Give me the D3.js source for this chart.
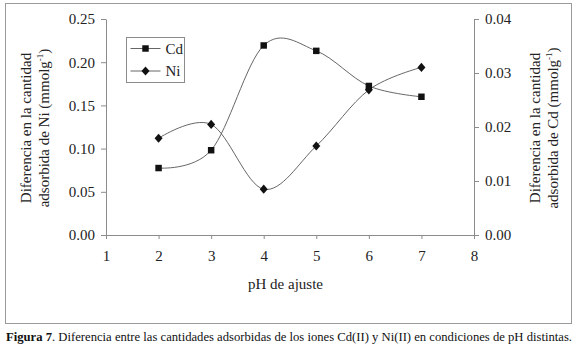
<!DOCTYPE html>
<html lang="es">
<head>
<meta charset="UTF-8" />
<title>Figura 7</title>
<script src="https://d3js.org/d3.v7.min.js"></script>
<style>
  body { margin: 0; background: #fff; }
  svg { display: block; }
  svg text { font-family: "Liberation Serif", "Times New Roman", "DejaVu Serif", serif !important; }
  .axis path, .axis line { stroke: #8c8c8c; }
  .axis text { font-size: 15px; fill: #222; }
  .title { font-size: 15px; fill: #222; }
</style>
</head>
<body>
<svg width="577" height="347"></svg>
<script>
  // data
  const ph = [2, 3, 4, 5, 6, 7];
  const cd = [0.0124, 0.0157, 0.0351, 0.0341, 0.0276, 0.0256];   // right axis
  const ni = [0.112, 0.128, 0.053, 0.103, 0.168, 0.194];         // left axis
  const xTicks = [1, 2, 3, 4, 5, 6, 7, 8];
  const leftTicks = [0, 0.05, 0.10, 0.15, 0.20, 0.25];
  const rightTicks = [0, 0.01, 0.02, 0.03, 0.04];

  const serif = '"Liberation Serif", "Times New Roman", "DejaVu Serif", serif';
  const svg = d3.select("svg");
  const margin = { top: 19, right: 103, bottom: 112, left: 106 };
  const W = 577, H = 347;
  const width = W - margin.left - margin.right;
  const height = H - margin.top - margin.bottom;

  // outer frame
  svg.append("rect")
    .attr("x", 5.5).attr("y", 3.5)
    .attr("width", 566).attr("height", 320)
    .attr("fill", "none").attr("stroke", "#9a9a9a");

  const g = svg.append("g").attr("transform", `translate(${margin.left},${margin.top})`);

  const x = d3.scaleLinear().domain([1, 8]).range([0, width]);
  const yL = d3.scaleLinear().domain([0, 0.25]).range([height, 0]);
  const yR = d3.scaleLinear().domain([0, 0.04]).range([height, 0]);

  g.append("g").attr("class", "axis")
    .attr("transform", `translate(0,${height})`)
    .call(d3.axisBottom(x).tickValues(xTicks).tickFormat(d3.format("d")).tickSize(4).tickSizeOuter(0).tickPadding(11))
    .call(a => a.select(".domain").attr("d", `M0,0.5H${width}`));

  g.append("g").attr("class", "axis")
    .call(d3.axisLeft(yL).tickValues(leftTicks).tickFormat(d3.format(".2f")).tickSize(5).tickSizeOuter(0).tickPadding(6));

  g.append("g").attr("class", "axis")
    .attr("transform", `translate(${width},0)`)
    .call(d3.axisRight(yR).tickValues(rightTicks).tickFormat(d3.format(".2f")).tickSize(5).tickSizeOuter(0).tickPadding(6));

  g.selectAll(".axis").attr("font-family", serif).attr("font-size", 15);

  const curve = d3.curveCatmullRom.alpha(0);
  const lineCd = d3.line().x((d, i) => x(ph[i])).y(d => yR(d)).curve(curve);
  const lineNi = d3.line().x((d, i) => x(ph[i])).y(d => yL(d)).curve(curve);

  g.append("path").attr("d", lineCd(cd)).attr("fill", "none").attr("stroke", "#555").attr("stroke-width", 0.9);
  g.append("path").attr("d", lineNi(ni)).attr("fill", "none").attr("stroke", "#555").attr("stroke-width", 0.9);

  const square = d3.symbol().type(d3.symbolSquare).size(42);
  const diamond = "M0,-4.6L4,0L0,4.6L-4,0Z";

  g.selectAll(".cd").data(cd).enter().append("path")
    .attr("class", "cd")
    .attr("d", square)
    .attr("transform", (d, i) => `translate(${x(ph[i])},${yR(d)})`)
    .attr("fill", "#111");

  g.selectAll(".ni").data(ni).enter().append("path")
    .attr("class", "ni")
    .attr("d", diamond)
    .attr("transform", (d, i) => `translate(${x(ph[i])},${yL(d)})`)
    .attr("fill", "#111");

  // legend
  const legend = svg.append("g").attr("transform", "translate(126.5,37.5)");
  legend.append("rect").attr("width", 58).attr("height", 45)
    .attr("fill", "#fff").attr("stroke", "#8c8c8c");
  const legendItems = [
    { label: "Cd", sym: square() },
    { label: "Ni", sym: diamond }
  ];
  legendItems.forEach((it, i) => {
    const ly = 11 + i * 22.5;
    legend.append("line").attr("x1", 4).attr("x2", 34).attr("y1", ly).attr("y2", ly)
      .attr("stroke", "#555").attr("stroke-width", 0.9);
    legend.append("path").attr("d", it.sym)
      .attr("transform", `translate(19,${ly})`).attr("fill", "#111");
    legend.append("text").attr("x", 39).attr("y", ly + 5)
      .attr("class", "title").attr("font-family", serif).text(it.label);
  });

  // axis titles
  svg.append("text").attr("class", "title").attr("font-family", serif)
    .attr("x", W / 2 - 3).attr("y", 289).attr("text-anchor", "middle")
    .text("pH de ajuste");

  function yTitle(cx, cy, metal) {
    const t = svg.append("g").attr("transform", `translate(${cx},${cy}) rotate(-90)`)
      .attr("font-family", serif);
    t.append("text").attr("class", "title").attr("text-anchor", "middle").attr("y", 0)
      .text("Diferencia en la cantidad");
    const l2 = t.append("text").attr("class", "title").attr("text-anchor", "middle").attr("y", 18);
    l2.append("tspan").text(`adsorbida de ${metal} (mmolg`);
    l2.append("tspan").attr("font-size", "9px").attr("dy", -6).text("-1");
    l2.append("tspan").attr("dy", 6).text(")");
  }
  yTitle(31, 128, "Ni");
  yTitle(540, 128, "Cd");

  // caption
  const cap = svg.append("text").attr("x", 6).attr("y", 341)
    .attr("font-family", serif)
    .attr("font-size", "12.5px").attr("fill", "#111")
    .attr("textLength", 566).attr("lengthAdjust", "spacingAndGlyphs");
  cap.append("tspan").attr("font-weight", "bold").text("Figura 7");
  cap.append("tspan").text(". Diferencia entre las cantidades adsorbidas de los iones Cd(II) y Ni(II) en condiciones de pH distintas.");
</script>
</body>
</html>
